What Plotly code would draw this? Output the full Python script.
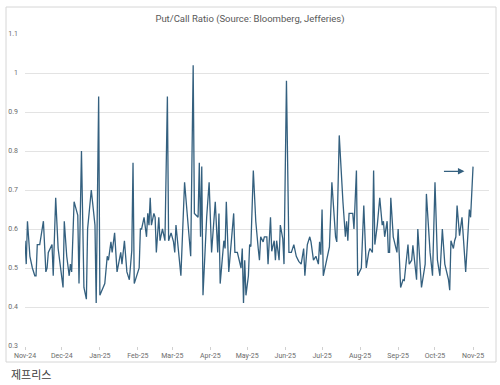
import plotly.graph_objects as go

dates = [
    "2024-11-01", "2024-11-02", "2024-11-03", "2024-11-05", "2024-11-07", "2024-11-09", "2024-11-10", "2024-11-11",
    "2024-11-13", "2024-11-16", "2024-11-18", "2024-11-19", "2024-11-20", "2024-11-23", "2024-11-24", "2024-11-26",
    "2024-11-28", "2024-11-30", "2024-12-02", "2024-12-03", "2024-12-05", "2024-12-07", "2024-12-08", "2024-12-09",
    "2024-12-11", "2024-12-14", "2024-12-15", "2024-12-17", "2024-12-19", "2024-12-21", "2024-12-22", "2024-12-25",
    "2024-12-28", "2024-12-29", "2024-12-31", "2025-01-01", "2025-01-05", "2025-01-07", "2025-01-08", "2025-01-10",
    "2025-01-11", "2025-01-13", "2025-01-15", "2025-01-18", "2025-01-19", "2025-01-21", "2025-01-23", "2025-01-25",
    "2025-01-27", "2025-01-28", "2025-01-29", "2025-02-02", "2025-02-03", "2025-02-04", "2025-02-06", "2025-02-08",
    "2025-02-09", "2025-02-10", "2025-02-11", "2025-02-12", "2025-02-14", "2025-02-15", "2025-02-16", "2025-02-18",
    "2025-02-19", "2025-02-21", "2025-02-23", "2025-02-25", "2025-02-26", "2025-02-28", "2025-03-02", "2025-03-03",
    "2025-03-04", "2025-03-08", "2025-03-11", "2025-03-16", "2025-03-18", "2025-03-19", "2025-03-22", "2025-03-23",
    "2025-03-24", "2025-03-25", "2025-03-26", "2025-03-29", "2025-03-31", "2025-04-02", "2025-04-05", "2025-04-07",
    "2025-04-08", "2025-04-09", "2025-04-12", "2025-04-13", "2025-04-14", "2025-04-16", "2025-04-20", "2025-04-21",
    "2025-04-23", "2025-04-26", "2025-04-27", "2025-04-28", "2025-04-29", "2025-04-30", "2025-05-02", "2025-05-03",
    "2025-05-04", "2025-05-06", "2025-05-08", "2025-05-10", "2025-05-11", "2025-05-12", "2025-05-14", "2025-05-15",
    "2025-05-17", "2025-05-18", "2025-05-20", "2025-05-21", "2025-05-23", "2025-05-24", "2025-05-25", "2025-05-27",
    "2025-05-28", "2025-05-30", "2025-05-31", "2025-06-02", "2025-06-04", "2025-06-06", "2025-06-08", "2025-06-10",
    "2025-06-12", "2025-06-14", "2025-06-16", "2025-06-17", "2025-06-19", "2025-06-21", "2025-06-22", "2025-06-24",
    "2025-06-26", "2025-06-28", "2025-06-29", "2025-06-30", "2025-07-01", "2025-07-02", "2025-07-04", "2025-07-06",
    "2025-07-07", "2025-07-09", "2025-07-12", "2025-07-13", "2025-07-15", "2025-07-18", "2025-07-20", "2025-07-21",
    "2025-07-22", "2025-07-23", "2025-07-26", "2025-07-27", "2025-07-29", "2025-07-30", "2025-08-02", "2025-08-04",
    "2025-08-06", "2025-08-08", "2025-08-09", "2025-08-11", "2025-08-12", "2025-08-13", "2025-08-15", "2025-08-17",
    "2025-08-19", "2025-08-20", "2025-08-21", "2025-08-23", "2025-08-24", "2025-08-25", "2025-08-26", "2025-08-28",
    "2025-08-30", "2025-08-31", "2025-09-01", "2025-09-03", "2025-09-05", "2025-09-06", "2025-09-09", "2025-09-10",
    "2025-09-12", "2025-09-13", "2025-09-16", "2025-09-17", "2025-09-20", "2025-09-22", "2025-09-23", "2025-09-24",
    "2025-09-27", "2025-09-29", "2025-10-01", "2025-10-03", "2025-10-05", "2025-10-07", "2025-10-09", "2025-10-12",
    "2025-10-13", "2025-10-14", "2025-10-16", "2025-10-17", "2025-10-18", "2025-10-19", "2025-10-21", "2025-10-23",
    "2025-10-26", "2025-10-29", "2025-10-30", "2025-11-01",
]

put_call = [
    0.57, 0.51, 0.62, 0.53, 0.50, 0.48, 0.48, 0.56,
    0.56, 0.62, 0.49, 0.50, 0.54, 0.56, 0.48, 0.68,
    0.55, 0.50, 0.45, 0.62, 0.53, 0.48, 0.51, 0.49,
    0.67, 0.635, 0.46, 0.80, 0.45, 0.42, 0.60, 0.70,
    0.61, 0.41, 0.94, 0.43, 0.46, 0.53, 0.52, 0.567,
    0.54, 0.59, 0.49, 0.54, 0.51, 0.57, 0.49, 0.47,
    0.545, 0.77, 0.46, 0.50, 0.60, 0.60, 0.63, 0.58,
    0.64, 0.61, 0.68, 0.61, 0.64, 0.63, 0.54, 0.63,
    0.57, 0.60, 0.57, 0.94, 0.57, 0.59, 0.567, 0.54,
    0.61, 0.48, 0.72, 0.53, 1.02, 0.64, 0.63, 0.77,
    0.58, 0.76, 0.43, 0.63, 0.72, 0.54, 0.67, 0.54,
    0.64, 0.46, 0.57, 0.55, 0.67, 0.49, 0.64, 0.54,
    0.54, 0.50, 0.55, 0.41, 0.52, 0.43, 0.48, 0.56,
    0.555, 0.75, 0.62, 0.55, 0.52, 0.58, 0.567, 0.58,
    0.58, 0.51, 0.63, 0.543, 0.57, 0.52, 0.57, 0.52,
    0.61, 0.575, 0.51, 0.98, 0.54, 0.54, 0.56, 0.53,
    0.517, 0.51, 0.55, 0.48, 0.56, 0.58, 0.567, 0.52,
    0.53, 0.51, 0.567, 0.534, 0.65, 0.48, 0.51, 0.547,
    0.554, 0.72, 0.58, 0.567, 0.84, 0.67, 0.58, 0.62,
    0.57, 0.64, 0.64, 0.60, 0.75, 0.48, 0.50, 0.66,
    0.50, 0.54, 0.55, 0.54, 0.75, 0.56, 0.61, 0.68,
    0.61, 0.62, 0.58, 0.62, 0.54, 0.54, 0.68, 0.58,
    0.55, 0.54, 0.60, 0.45, 0.47, 0.468, 0.56, 0.51,
    0.52, 0.558, 0.47, 0.60, 0.45, 0.50, 0.51, 0.69,
    0.54, 0.48, 0.72, 0.52, 0.48, 0.60, 0.51, 0.47,
    0.443, 0.57, 0.55, 0.57, 0.58, 0.66, 0.583, 0.63,
    0.49, 0.65, 0.63, 0.76,
]

y_ticks = [0.3, 0.4, 0.5, 0.6, 0.7, 0.8, 0.9, 1.0, 1.1]
y_tick_labels = ["0.3", "0.4", "0.5", "0.6", "0.7", "0.8", "0.9", "1", "1.1"]

title_text = "Put/Call Ratio (Source: Bloomberg, Jefferies)"
source_text = "제프리스"

LINE = "#34607f"
GRID = "#e3e3e3"
TXT = "#6b6b6b"

fig = go.Figure()
fig.add_trace(go.Scatter(
    x=dates, y=put_call, mode="lines",
    line=dict(color=LINE, width=1.3),
    hoverinfo="x+y", showlegend=False,
))

fig.update_layout(
    width=500, height=385,
    margin=dict(l=25, r=11, t=34, b=39, autoexpand=False),
    paper_bgcolor="white", plot_bgcolor="white",
    font=dict(family="Roboto, 'Noto Sans', sans-serif", color=TXT, size=7),
    title=dict(text=title_text, x=0.5, xanchor="center", y=1 - 19 / 385, yanchor="middle",
               font=dict(size=9.5, color="#595959")),
    xaxis=dict(
        type="date", range=["2024-11-01", "2025-11-14"], automargin=False,
        tick0="2024-11-01", dtick="M1", tickformat="%b-%y",
        showgrid=False, zeroline=False,
        showline=False, ticks="outside", ticklen=3, tickcolor="#d0d0d0",
        tickfont=dict(size=7, color=TXT),
    ),
    yaxis=dict(
        range=[0.3, 1.1], tickvals=y_ticks, ticktext=y_tick_labels, automargin=False,
        showgrid=True, gridcolor=GRID, gridwidth=1, zeroline=False,
        showline=False, ticks="", ticklabelstandoff=6,
        tickfont=dict(size=7, color=TXT),
    ),
    shapes=[dict(type="rect", xref="paper", yref="paper",
                 x0=(6 - 25) / 464, x1=(496 - 25) / 464,
                 y0=(346 - 362) / 312, y1=(346 - 7) / 312,
                 line=dict(color="#d6d6d6", width=1), fillcolor="rgba(0,0,0,0)", layer="below")],
    annotations=[
        dict(x="2025-10-25", y=0.748, xref="x", yref="y", ax=-22, ay=0,
             showarrow=True, arrowhead=2, arrowsize=1, arrowwidth=1.3, arrowcolor=LINE, text=""),
        dict(x=(9 - 25) / 464, y=(346 - 374) / 312, xref="paper", yref="paper",
             xanchor="left", yanchor="middle", showarrow=False, text=source_text,
             font=dict(family="'Noto Sans CJK KR', sans-serif", size=11, color="#3c3c3c")),
    ],
)

fig.write_html("out.html", config={"displayModeBar": False},
               post_script="document.body.style.margin='0';document.body.style.overflow='hidden';")
